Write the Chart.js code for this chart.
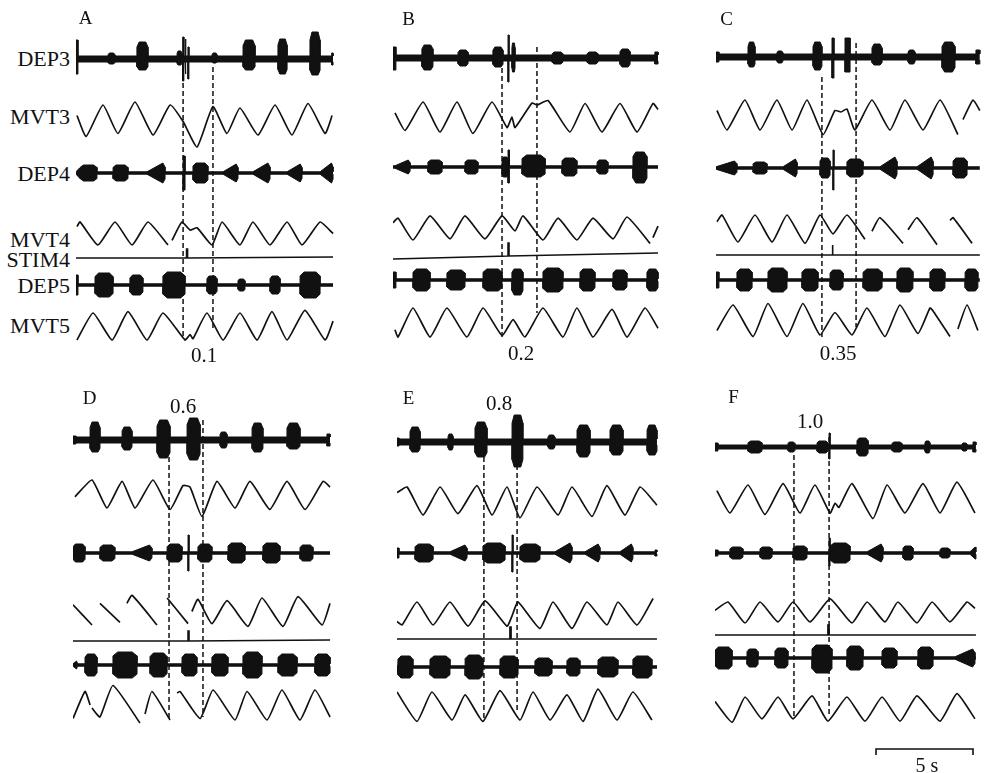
<!DOCTYPE html>
<html>
<head>
<meta charset="utf-8">
<script src="https://cdn.jsdelivr.net/npm/chart.js@4.4.1/dist/chart.umd.min.js"></script>
<style>
  html, body { margin: 0; padding: 0; background: #fff; }
  #fig { position: relative; width: 987px; height: 773px; overflow: hidden; background: #fff; }
  #fig canvas { position: absolute; }
  .lbl { position: absolute; font-family: "Liberation Serif", "Times New Roman", serif; color: #111; line-height: 1; white-space: nowrap; }
  .c { transform: translate(-50%, -50%); }
  .r { transform: translate(-100%, -50%); }
</style>
</head>
<body>
<div id="fig"></div>
<script>
// Time base shared by every panel (seconds); 5 s bar spans 97 px.
const PX_PER_S = 19.4;

// Bursts: [onset s, offset s, upward amplitude, downward amplitude, kind]
// kind: 'b' blob, 'r' ramp (grows then stops abruptly), 's' spike / artefact
// Movement traces: [time s, normalised position]; null marks a break in the record.
// Stim traces: [time s, level]

// ---- Panel A (phase 0.1)
const endA = 13.25;
const dep3A = [[0,0.1,19,15,'s'],[1.65,2.01,6,5,'b'],[3.14,3.71,17,11,'b'],[5.21,5.46,8,6,'b'],[5.50,5.56,22,22,'s'],[5.62,5.67,20,15,'s'],[5.77,5.82,12,20,'s'],[7.01,7.27,6,4,'b'],[8.61,9.23,19,11,'b'],[10.41,10.88,20,15,'b'],[12.06,12.58,27,16,'b'],[13.18,13.25,6,6,'s']];
const mvt3A = [[0.05,0.3],[0.52,-1.1],[1.39,1],[2.16,-0.9],[3.04,1.2],[3.97,-1],[4.85,1],[5.52,-0.1],[6.24,-1.8],[7.06,0.9],[7.78,-0.9],[8.45,0.8],[9.38,-1],[10.26,1],[11.13,-1],[11.96,1.1],[12.84,-0.9],[13.2,0.3]];
const dep4A = [[0,0.21,5,5,'r'],[0.21,1.08,8,8,'b'],[1.91,2.68,8,8,'b'],[3.66,4.59,10,10,'r'],[5.52,5.62,17,17,'s'],[6.03,6.80,10,10,'b'],[7.58,8.35,9,9,'r'],[9.12,10.0,10,10,'r'],[10.88,11.65,9,9,'r'],[12.58,13.25,10,10,'r']];
const mvt4A = [[0.05,0.6],[0.21,1],[1.13,-1],[2.01,1],[2.89,-1],[3.71,1],[4.74,-1],null,[4.95,-0.6],[5.46,1],[5.88,0.3],[6.24,0.5],[7.01,-1],[7.53,1],[8.45,-1],[9.12,1],[10.0,-1],[10.88,1],[11.65,-1],[12.58,1],[13.25,0]];
const stimA = [[0,0],[5.70,0],[5.70,9],[5.75,9],[5.75,0],[13.25,1]];
const dep5A = [[0,0.1,10,10,'s'],[0.98,1.91,12,12,'b'],[2.78,3.45,10,10,'b'],[4.48,5.62,13,13,'b'],[6.75,7.27,9,9,'b'],[8.35,8.71,6,6,'b'],[10.0,10.52,9,9,'b'],[11.55,12.58,13,13,'b']];
const mvt5A = [[0.05,-1],[0.88,1],[1.86,-1],[2.68,1.1],[3.66,-1],[4.48,1],[5.62,-1],[5.88,-0.6],[6.03,-0.9],[6.75,1],[7.58,-1],[8.45,1],[9.33,-1],[10.10,1.1],[10.88,-1],[11.80,1.2],[12.84,-1],[13.25,0.4]];
const markA = [5.52, 7.06];

// ---- Panel B (phase 0.2)
const endB = 13.66;
const dep3B = [[0,0.15,11,12,'s'],[1.49,2.06,13,12,'b'],[3.35,3.87,8,8,'b'],[5.15,5.67,11,9,'b'],[5.93,5.98,23,24,'s'],[6.13,6.29,15,14,'b'],[8.20,8.76,6,6,'b'],[10.0,10.57,6,6,'b'],[11.70,12.22,9,9,'b'],[13.50,13.66,6,6,'s']];
const mvt3B = [[0.10,0.27],[0.62,-0.9],[1.55,1],[2.42,-1],[3.30,1],[4.12,-1.1],[5.10,1],[5.88,-0.7],[6.13,0],[6.29,-0.7],[7.16,0.93],[7.42,0.8],[7.99,1.1],[9.12,-1],[9.90,0.9],[10.77,-1],[11.70,0.9],[12.58,-1],[13.40,0.9],[13.66,0.5]];
const dep4B = [[0.10,0.88,7,7,'r'],[1.80,2.53,7,7,'b'],[3.71,4.38,7,7,'b'],[5.62,5.93,10,10,'b'],[5.93,6.0,17,16,'s'],[6.65,7.84,12,10,'b'],[8.71,9.48,9,9,'b'],[10.52,11.08,7,7,'b'],[12.37,13.09,15,16,'b']];
const mvt4B = [[0,0.5],[0.26,0.9],[1.03,-1],[1.91,1.1],[2.94,-0.9],[3.71,1.1],[4.74,-0.9],[5.62,1.1],[6.29,-0.2],[6.70,1.1],[7.73,-1],[8.51,0.9],[9.48,-1],[10.31,0.9],[11.34,-0.9],[12.06,1],[13.25,-1.3],null,[13.40,-0.8],[13.66,0.2]];
const stimB = [[0,0],[5.93,3],[5.93,16],[5.98,16],[5.98,3],[13.66,6]];
const dep5B = [[0,0.15,8,8,'s'],[1.03,1.91,11,11,'b'],[2.78,3.71,10,10,'b'],[4.64,5.62,11,11,'b'],[6.13,6.70,11,15,'b'],[7.73,8.76,12,12,'b'],[9.64,10.41,11,11,'b'],[11.34,12.06,10,10,'b'],[13.09,13.66,11,11,'b']];
const mvt5B = [[0.10,-0.5],[0.26,-1],[1.03,1],[1.91,-1],[2.78,1],[3.81,-1],[4.64,1],[5.62,-0.9],[6.19,0.2],[6.80,-1],[7.73,1],[8.76,-1],[9.48,1],[10.31,-1],[11.29,0.9],[12.06,-1],[12.99,1],[13.66,-0.4]];
const markB = [5.62, 7.42];

// ---- Panel C (phase 0.35)
const endC = 13.6;
const dep3C = [[0,0.15,5,5,'s'],[1.65,2.01,15,10,'b'],[3.14,3.45,6,6,'b'],[5.0,5.46,15,13,'b'],[5.98,6.08,19,21,'s'],[6.65,6.91,19,15,'s'],[8.04,8.56,13,8,'b'],[9.90,10.26,7,7,'b'],[11.65,12.32,15,15,'b'],[13.40,13.6,7,7,'s']];
const mvt3C = [[0.05,0.3],[0.57,-1],[1.49,1],[2.27,-1],[3.14,1],[3.92,-1],[4.69,1],[5.52,-1.3],[6.13,0.3],[6.44,0.2],[6.75,0.4],[7.16,-1],[8.04,1],[8.97,-1],[9.74,1],[10.67,-1],[11.55,1],[12.47,-1.3],null,[12.73,-0.3],[13.25,1],[13.6,0.3]];
const dep4C = [[0,1.08,7,7,'r'],[1.91,2.63,6,6,'b'],[3.45,4.18,9,9,'r'],[5.36,5.88,10,10,'b'],[6.03,6.08,18,22,'s'],[6.75,7.58,9,9,'b'],[8.45,9.33,11,11,'r'],[10.36,11.19,11,11,'r'],[12.22,12.94,10,10,'b']];
const mvt4C = [[0.05,0.5],[0.31,1],[1.13,-1],[2.01,1],[2.89,-1],[3.66,1],[4.59,-1.1],[5.36,1],[6.03,-0.4],[6.75,1],[7.68,-0.8],null,[8.04,-0.2],[8.45,0.8],[9.64,-1.1],null,[9.90,-0.1],[10.36,0.8],[11.39,-1.2],null,[12.06,0.6],[12.22,0.8],[13.20,-1.1]];
const stimC = [[0,0],[5.98,0],[5.98,10],[6.03,10],[6.03,0],[13.6,0]];
const dep5C = [[0,0.15,8,8,'s'],[1.08,1.86,11,11,'b'],[2.68,3.66,12,12,'b'],[4.43,5.26,11,11,'b'],[5.88,6.55,10,10,'b'],[7.58,8.56,11,11,'b'],[9.33,10.15,12,12,'b'],[11.03,11.80,11,11,'b'],[12.84,13.5,11,11,'b']];
const mvt5C = [[0.05,-0.7],[0.88,1],[1.91,-1.1],[2.68,1.1],[3.66,-1.1],[4.48,1.1],[5.36,-1],[6.13,0.5],[7.01,-1],[7.78,0.8],[8.71,-1.1],[9.48,1],[10.41,-0.9],[11.03,0.8],[11.19,0.6],[12.06,-1.1],null,[12.47,-0.6],[12.94,1],[13.5,-0.7]];
const markC = [5.46, 7.22];

// ---- Panel D (phase 0.6)
const endD = 13.25;
const dep3D = [[0,0.15,4,4,'s'],[0.88,1.39,18,12,'b'],[2.53,3.04,13,10,'b'],[4.33,5.0,20,18,'b'],[5.88,6.55,22,20,'b'],[7.58,7.94,8,8,'b'],[9.23,9.79,17,12,'b'],[11.03,11.70,17,9,'b'],[13.09,13.25,6,6,'s']];
const mvt3D = [[0.10,-0.2],[0.98,1],[1.75,-1],[2.53,0.9],[3.20,-1],[4.12,1],[5.0,-1.1],[5.67,0.6],[6.03,0.5],[6.65,-1.6],[7.42,0.9],[8.35,-1],[9.12,0.9],[10.15,-1.1],[11.03,0.9],[11.96,-1.1],[12.89,0.9],[13.25,0.5]];
const dep4D = [[0,0.62,9,9,'b'],[1.39,2.16,8,8,'b'],[3.04,4.07,8,8,'r'],[4.85,5.62,9,9,'b'],[5.93,5.98,18,18,'s'],[6.44,7.16,9,9,'b'],[7.99,8.87,10,10,'b'],[9.79,10.67,10,10,'b'],[11.70,12.37,8,8,'b']];
const mvt4D = [[0,0.5],[0.98,-1],null,[1.39,0.6],[2.42,-0.8],null,[2.78,0.6],[3.04,1.2],[4.33,-1],null,[4.85,1],[5.93,-0.9],null,[6.13,0],[6.44,0.9],[7.16,-0.9],[7.94,0.8],[9.02,-1.1],[9.74,1],[10.82,-1.1],[11.60,1.1],[12.84,-1],[13.25,0.6]];
const stimD = [[0,0],[5.93,0],[5.93,10],[5.98,10],[5.98,0],[13.25,1]];
const dep5D = [[0,0.21,4,4,'r'],[0.62,1.24,11,11,'b'],[2.06,3.30,13,13,'b'],[3.97,4.85,12,12,'b'],[5.62,6.39,11,11,'b'],[7.16,7.99,11,11,'b'],[8.76,9.74,13,13,'b'],[10.57,11.55,11,11,'b'],[12.47,13.25,11,11,'b']];
const mvt5D = [[0,-0.9],[0.62,0.9],[0.88,0],null,[0.98,-0.2],[1.39,-0.8],[2.06,1.3],[3.45,-1.2],null,[3.71,-0.6],[4.07,0.9],[5.0,-1],null,[5.36,0.8],[5.52,0.9],[6.55,-0.9],[7.22,1],[8.35,-1],[8.97,0.9],[10.0,-1],[10.77,1],[11.70,-1],[12.47,1],[13.25,-0.8]];
const markD = [4.95, 6.70];

// ---- Panel E (phase 0.8)
const endE = 13.40;
const dep3E = [[0,0.10,4,4,'s'],[0.67,1.19,15,10,'b'],[2.63,2.89,8,8,'b'],[4.02,4.64,20,15,'b'],[5.93,6.49,27,25,'b'],[7.78,8.14,7,7,'b'],[9.28,9.95,17,15,'b'],[10.98,11.65,17,13,'b'],[12.89,13.40,17,13,'b']];
const mvt3E = [[0,0.6],[0.52,1],[1.34,-1],[2.22,1],[3.14,-0.9],[4.12,1.1],[4.90,-1],[5.67,1],[6.34,-1.2],[7.22,1],[8.30,-1],[9.02,1],[10.05,-1.1],[10.82,1.1],[11.75,-1],[12.53,1],[13.40,-0.3]];
const dep4E = [[0,0.10,5,5,'s'],[0.93,1.86,9,9,'b'],[2.73,3.61,8,8,'r'],[4.43,5.57,10,10,'b'],[5.93,5.98,18,19,'s'],[6.34,7.37,9,9,'b'],[8.14,9.02,10,10,'r'],[9.69,10.46,9,9,'r'],[11.49,12.16,9,9,'r'],[13.30,13.40,3,3,'s']];
const mvt4E = [[0,-0.7],[0.26,-1],[1.03,1],[1.86,-1],[2.73,1],[3.66,-1.1],[4.54,1.1],[5.67,-1.1],[5.93,-0.2],[6.24,1],[7.37,-1.3],[8.04,1],[9.02,-1.3],[9.79,1],[10.82,-1],[11.39,1],[12.37,-1],[13.20,1.3]];
const stimE = [[0,0],[5.82,0],[5.82,12],[5.88,12],[5.88,0],[13.40,0]];
const dep5E = [[0.05,0.82,11,11,'b'],[1.70,2.73,11,11,'b'],[3.51,4.43,12,12,'b'],[5.31,6.24,11,11,'b'],[7.11,7.99,9,9,'b'],[8.76,9.43,9,9,'b'],[10.36,11.39,10,10,'b'],[12.16,13.14,11,11,'b']];
const mvt5E = [[0,1],[1.03,-1.1],[1.80,1],[2.84,-1],[3.51,0.8],[4.43,-1.1],[5.31,1.1],[6.34,-1],[7.01,1],[7.89,-1],[8.76,0.8],[9.59,-1.1],[10.36,1.2],[11.34,-1],[12.16,1],[13.14,-1]];
const markE = [4.48, 6.19];

// ---- Panel F (phase 1.0)
const endF = 13.45;
const dep3F = [[0,0.15,4,4,'s'],[1.70,2.42,6,6,'b'],[3.76,4.12,5,5,'b'],[5.26,5.82,6,6,'b'],[5.88,5.93,14,12,'s'],[7.32,7.89,9,9,'b'],[9.12,9.64,5,5,'b'],[10.82,11.08,6,6,'b'],[12.73,12.99,4,4,'b'],[13.30,13.45,5,5,'s']];
const mvt3F = [[0.10,0.6],[0.77,-1],[1.70,1],[2.58,-1.1],[3.51,1.1],[4.38,-1],[5.15,1],[5.93,-1],[6.19,-0.3],[6.39,-0.6],[7.06,1.1],[8.14,-1.4],[8.87,1],[9.79,-1],[10.72,1.1],[11.60,-1],[12.47,1.2],[13.40,-1]];
const dep4F = [[0,0.15,3,3,'s'],[0.77,1.44,6,6,'b'],[2.32,2.94,6,6,'b'],[4.02,4.74,7,7,'b'],[5.88,5.93,15,13,'s'],[5.93,6.96,10,10,'b'],[7.84,8.66,9,9,'r'],[9.69,10.21,7,7,'b'],[11.60,12.11,5,5,'b'],[13.14,13.45,6,6,'r']];
const mvt4F = [[0,0.2],[0.67,1],[1.55,-1],[2.32,1],[3.25,-0.9],[4.02,1],[4.90,-0.9],[5.93,1.3],[7.06,-1],[7.84,1],[8.76,-0.9],[9.43,1],[10.41,-1],[11.19,1],[12.11,-0.9],[12.99,1],[13.40,0.4]];
const stimF = [[0,0],[5.82,0],[5.82,10],[5.88,10],[5.88,0],[13.45,0]];
const dep5F = [[0,0.88,11,11,'b'],[1.65,2.22,9,9,'b'],[3.09,3.76,10,10,'b'],[5.0,6.03,13,15,'b'],[6.80,7.63,12,12,'b'],[8.61,9.38,10,10,'b'],[10.46,11.24,11,11,'b'],[12.37,13.40,9,9,'r']];
const mvt5F = [[0,0.6],[0.88,-1.2],[1.55,1],[2.42,-0.9],[3.25,1],[4.02,-0.9],[5.0,1.1],[5.82,-1.1],[6.80,1],[7.73,-1.1],[8.61,1],[9.54,-1.1],[10.41,1.1],[11.60,-1.1],[12.47,1.3],[13.40,-0.9]];
const markF = [4.07, 5.88];
const scaleBarStart = 8.3, scaleBarLength = 5; // seconds

// ---- Trace labels and panel annotations
const traceNames = ['DEP3', 'MVT3', 'DEP4', 'MVT4', 'STIM4', 'DEP5', 'MVT5'];
const panelLetters = ['A', 'B', 'C', 'D', 'E', 'F'];
const phases = ['0.1', '0.2', '0.35', '0.6', '0.8', '1.0'];

// ---- Placement of each panel and vertical position / gain of its channels
const CANVAS_W = 270;
const panels = [
  { left: 76,  top: 0,   height: 380, end: endA, dep3: dep3A, mvt3: mvt3A, dep4: dep4A, mvt4: mvt4A, stim: stimA, dep5: dep5A, mvt5: mvt5A, marks: markA,
    lay: { dep3: [59, 3], mvt3: [120, 15], dep4: [173, 1.2], mvt4: [233.5, 11.5], stim: 258, dep5: [285, 1.2], mvt5: [326.5, 13.5], marks: [[67, 338], [67, 330]] } },
  { left: 393, top: 0,   height: 380, end: endB, dep3: dep3B, mvt3: mvt3B, dep4: dep4B, mvt4: mvt4B, stim: stimB, dep5: dep5B, mvt5: mvt5B, marks: markB,
    lay: { dep3: [58, 3], mvt3: [117, 15], dep4: [167, 1.2], mvt4: [228.5, 11.5], stim: 259, dep5: [280, 1.2], mvt5: [322.5, 14.5], marks: [[68, 337], [47, 313]] } },
  { left: 716, top: 0,   height: 380, end: endC, dep3: dep3C, mvt3: mvt3C, dep4: dep4C, mvt4: mvt4C, stim: stimC, dep5: dep5C, mvt5: mvt5C, marks: markC,
    lay: { dep3: [57, 3], mvt3: [115, 15], dep4: [168, 1.2], mvt4: [228.5, 13.5], stim: 255, dep5: [280, 1.2], mvt5: [320, 15], marks: [[77, 337], [43, 327]] } },
  { left: 73,  top: 380, height: 393, end: endD, dep3: dep3D, mvt3: mvt3D, dep4: dep4D, mvt4: mvt4D, stim: stimD, dep5: dep5D, mvt5: mvt5D, marks: markD,
    lay: { dep3: [60, 3], mvt3: [114, 14], dep4: [173, 1.2], mvt4: [231.5, 13.5], stim: 261, dep5: [285, 1.2], mvt5: [325, 15], marks: [[77, 340], [40, 337]] } },
  { left: 397, top: 380, height: 393, end: endE, dep3: dep3E, mvt3: mvt3E, dep4: dep4E, mvt4: mvt4E, stim: stimE, dep5: dep5E, mvt5: mvt5E, marks: markE,
    lay: { dep3: [62, 3], mvt3: [121, 14], dep4: [173, 1.2], mvt4: [233.5, 11.5], stim: 259, dep5: [287, 1.2], mvt5: [326, 14], marks: [[77, 340], [85, 330]] } },
  { left: 715, top: 380, height: 393, end: endF, dep3: dep3F, mvt3: mvt3F, dep4: dep4F, mvt4: mvt4F, stim: stimF, dep5: dep5F, mvt5: mvt5F, marks: markF,
    lay: { dep3: [67, 2], mvt3: [119, 14], dep4: [173, 1.2], mvt4: [232.5, 10.5], stim: 255, dep5: [278, 1.2], mvt5: [328.5, 11.5], marks: [[75, 337], [57, 337]], bar: [369, 6] } }
];

const INK = '#111';

// Outline of a burst train on one side of the baseline (+1 above, -1 below).
function envelope(bursts, end, center, base, side) {
  const pts = [[0, base]];
  bursts.forEach(([on, off, up, down, kind]) => {
    const a = side > 0 ? up : down;
    const d = off - on;
    if (kind === 's') {
      pts.push([on, base], [on, a], [off, a], [off, base]);
    } else if (kind === 'r') {
      pts.push([on, base], [off - 0.12 * d, a], [off, 0.6 * a], [off, base]);
    } else {
      pts.push([on, base], [on, 0.7 * a], [on + 0.2 * d, a], [off - 0.2 * d, a], [off, 0.7 * a], [off, base]);
    }
  });
  pts.push([end, base]);
  return pts.map(([t, v]) => ({ x: t, y: center - side * v }));
}

// Movement record -> chart points, keeping breaks as gaps.
function trace(rows, center, gain) {
  let lastX = 0;
  return rows.map(r => {
    if (r === null) return { x: lastX, y: null };
    lastX = r[0];
    return { x: r[0], y: center - r[1] * gain };
  });
}

function burstSets(bursts, end, [center, base]) {
  return [
    { data: envelope(bursts, end, center, base, 1), borderColor: INK, borderWidth: 1, fill: false, tension: 0 },
    { data: envelope(bursts, end, center, base, -1), borderColor: INK, borderWidth: 1, fill: '-1', backgroundColor: INK, tension: 0 }
  ];
}

function moveSet(rows, [center, gain]) {
  return { data: trace(rows, center, gain), borderColor: INK, borderWidth: 1.7, fill: false, tension: 0.15, spanGaps: false };
}

const fig = document.getElementById('fig');

panels.forEach((p, i) => {
  const L = p.lay;
  const datasets = [
    ...burstSets(p.dep3, p.end, L.dep3),
    moveSet(p.mvt3, L.mvt3),
    ...burstSets(p.dep4, p.end, L.dep4),
    moveSet(p.mvt4, L.mvt4),
    { data: p.stim.map(([t, v]) => ({ x: t, y: L.stim - v })), borderColor: INK, borderWidth: 1.6, fill: false, tension: 0 },
    ...burstSets(p.dep5, p.end, L.dep5),
    moveSet(p.mvt5, L.mvt5)
  ];
  p.marks.forEach((t, k) => {
    datasets.push({ data: [{ x: t, y: L.marks[k][0] }, { x: t, y: L.marks[k][1] }], borderColor: INK, borderWidth: 1.5, borderDash: [5, 3], fill: false, tension: 0 });
  });
  if (L.bar) {
    const [y, tick] = L.bar;
    const t0 = scaleBarStart, t1 = scaleBarStart + scaleBarLength;
    datasets.push({ data: [{ x: t0, y: y + tick }, { x: t0, y: y }, { x: t1, y: y }, { x: t1, y: y + tick }], borderColor: INK, borderWidth: 1.6, fill: false, tension: 0 });
  }

  const canvas = document.createElement('canvas');
  canvas.width = CANVAS_W;
  canvas.height = p.height;
  canvas.style.left = p.left + 'px';
  canvas.style.top = p.top + 'px';
  fig.appendChild(canvas);

  new Chart(canvas, {
    type: 'line',
    data: { datasets },
    options: {
      animation: false,
      responsive: false,
      devicePixelRatio: 1,
      events: [],
      layout: { padding: 0 },
      elements: { point: { radius: 0 } },
      plugins: { legend: { display: false }, tooltip: { enabled: false } },
      scales: {
        x: { type: 'linear', min: 0, max: CANVAS_W / PX_PER_S, display: false },
        y: { type: 'linear', min: 0, max: p.height, reverse: true, display: false }
      }
    }
  });
});

// ---- Text
function addText(text, x, y, size, cls) {
  const d = document.createElement('div');
  d.className = 'lbl ' + cls;
  d.textContent = text;
  d.style.left = x + 'px';
  d.style.top = y + 'px';
  d.style.fontSize = size + 'px';
  fig.appendChild(d);
}

const nameY = [58.5, 117, 173.5, 239.5, 259.5, 285.5, 325.5];
traceNames.forEach((n, k) => addText(n, 70, nameY[k], 22, 'r'));

const letterPos = [[85.5, 17], [408.5, 17.5], [726.5, 17.5], [89.5, 396.5], [408.5, 396.5], [733.5, 396]];
panelLetters.forEach((s, k) => addText(s, letterPos[k][0], letterPos[k][1], 19, 'c'));

const phasePos = [[204, 355], [521, 353], [838, 353], [183, 406], [499, 403], [810, 421]];
phases.forEach((s, k) => addText(s, phasePos[k][0], phasePos[k][1], 21, 'c'));

addText('5 s', 927, 765, 20, 'c');
</script>
</body>
</html>
